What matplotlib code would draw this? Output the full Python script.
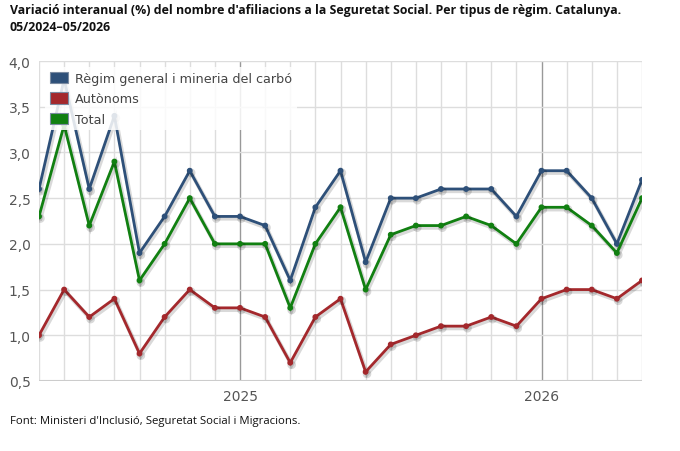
import matplotlib
matplotlib.use("Agg")
import matplotlib.pyplot as plt
import matplotlib.patheffects as pe
from matplotlib.patches import Patch

months = ["05/2024","06/2024","07/2024","08/2024","09/2024","10/2024","11/2024","12/2024",
          "01/2025","02/2025","03/2025","04/2025","05/2025","06/2025","07/2025","08/2025",
          "09/2025","10/2025","11/2025","12/2025","01/2026","02/2026","03/2026","04/2026","05/2026"]
regim_general = [2.6, 3.8, 2.6, 3.4, 1.9, 2.3, 2.8, 2.3, 2.3, 2.2, 1.6, 2.4, 2.8,
                 1.8, 2.5, 2.5, 2.6, 2.6, 2.6, 2.3, 2.8, 2.8, 2.5, 2.0, 2.7]
autonoms = [1.0, 1.5, 1.2, 1.4, 0.8, 1.2, 1.5, 1.3, 1.3, 1.2, 0.7, 1.2, 1.4,
            0.6, 0.9, 1.0, 1.1, 1.1, 1.2, 1.1, 1.4, 1.5, 1.5, 1.4, 1.6]
total = [2.3, 3.3, 2.2, 2.9, 1.6, 2.0, 2.5, 2.0, 2.0, 2.0, 1.3, 2.0, 2.4,
         1.5, 2.1, 2.2, 2.2, 2.3, 2.2, 2.0, 2.4, 2.4, 2.2, 1.9, 2.5]
year_ticks = ["2025", "2026"]
y_ticks = [0.5, 1.0, 1.5, 2.0, 2.5, 3.0, 3.5, 4.0]

W, H = 680, 452
fig = plt.figure(figsize=(W/100, H/100), dpi=100)
ax = fig.add_axes([39/W, 1-382/H, (642-39)/W, (382-62)/H])

x = list(range(len(months)))
series = [("Règim general i mineria del carbó", regim_general, "#2e5079"),
          ("Autònoms", autonoms, "#a4282c"),
          ("Total", total, "#118011")]

# grid
for i, m in enumerate(months):
    is_year = m.startswith("01/")
    ax.axvline(i, color="#999999" if is_year else "#dddddd", lw=1.0, zorder=0)
for yv in y_ticks:
    ax.axhline(yv, color="#dddddd", lw=1.0, zorder=0)
ax.axhline(0.5, color="#cccccc", lw=1.5, zorder=0)

shadow = [pe.SimpleLineShadow(offset=(1, -1.5), shadow_color="#000000", alpha=0.15, linewidth=3), pe.Normal()]
for name, vals, col in series:
    ax.plot(x, vals, color=col, lw=2.0, marker="o", ms=3.2, mec=col, mfc=col,
            zorder=3, path_effects=shadow, solid_joinstyle="miter")

ax.set_xlim(0, len(months)-1)
ax.set_ylim(0.5, 4.0)
ax.set_yticks(y_ticks)
ax.set_yticklabels([f"{v:.1f}".replace(".", ",") for v in y_ticks])
yr_pos = [i for i, m in enumerate(months) if m.startswith("01/")]
ax.set_xticks(yr_pos)
ax.set_xticklabels(year_ticks)
ax.tick_params(axis="both", length=0, labelsize=10, colors="#555555")
ax.tick_params(axis="x", pad=6)
ax.tick_params(axis="y", pad=6)
for s in ax.spines.values():
    s.set_visible(False)

handles = [Patch(facecolor=c, edgecolor="#7a8aa0", lw=0.8, label=n) for n, v, c in series]
leg = ax.legend(handles=handles, loc="upper left", bbox_to_anchor=(0.006, 0.988),
                frameon=True, fontsize=9.2, handlelength=1.45, handleheight=1.0,
                handletextpad=0.55, labelspacing=0.58, borderaxespad=0.2, borderpad=0.35)
leg.get_frame().set_facecolor("white")
leg.get_frame().set_alpha(0.85)
leg.get_frame().set_edgecolor("none")
leg.set_zorder(5)
for t in leg.get_texts():
    t.set_color("#444444")

fig.text(10/W, 1-19/H, "Variació interanual (%) del nombre d'afiliacions a la Seguretat Social. Per tipus de règim. Catalunya.\n05/2024–05/2026",
         fontsize=8.9, fontweight="bold", family="Open Sans", color="#111111", va="center", ha="left", linespacing=1.45)
fig.text(10/W, 1-422/H, "Font: Ministeri d'Inclusió, Seguretat Social i Migracions.",
         fontsize=8.2, family="Open Sans", color="#111111", va="center", ha="left")

fig.savefig("out.png", dpi=100)
